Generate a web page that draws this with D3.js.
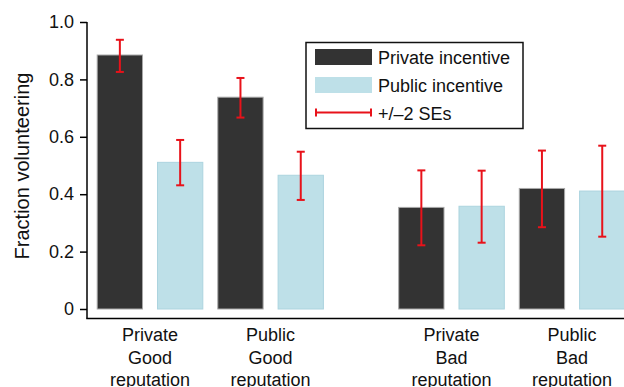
<!DOCTYPE html>
<html><head><meta charset="utf-8">
<script src="https://cdn.jsdelivr.net/npm/d3@7"></script>
<style>body{margin:0;background:#fff}svg{display:block;font-family:"Liberation Sans",Arial,sans-serif}</style>
</head><body>
<svg id="c" width="624" height="387"></svg>
<script>
const groups = [["Private","Good","reputation"],["Public","Good","reputation"],["Private","Bad","reputation"],["Public","Bad","reputation"]];
const seriesNames = ["Private incentive","Public incentive"];
const privateVals = [0.885, 0.738, 0.354, 0.420];
const publicVals = [0.511, 0.466, 0.358, 0.411];
const privateLo = [0.826, 0.667, 0.222, 0.285];
const privateHi = [0.938, 0.805, 0.483, 0.552];
const publicLo = [0.431, 0.380, 0.231, 0.252];
const publicHi = [0.589, 0.548, 0.482, 0.569];
const yTicks = [0, 0.2, 0.4, 0.6, 0.8, 1.0];
const yTitle = "Fraction volunteering";
const errLabel = "+/\u20132 SEs";

const colors = ["#333333", "#bee0e8"];
const strokes = ["#a8a8a8", "#acd4df"];
const red = "#e8121a";

const svg = d3.select("#c");
const slots = ["g0p","g0q","g1p","g1q","gap","g2p","g2q","g3p","g3q"];
const x = d3.scaleBand().domain(slots).range([87, 635.1]).paddingInner(0.232).paddingOuter(0.161);
const y = d3.scaleLinear().domain([0, 1]).range([309, 22]);

const bars = [];
groups.forEach((g, i) => {
  const base = i < 2 ? i * 2 : i * 2 + 1;
  bars.push({slot: slots[base], s: 0, v: privateVals[i], lo: privateLo[i], hi: privateHi[i], g: i});
  bars.push({slot: slots[base + 1], s: 1, v: publicVals[i], lo: publicLo[i], hi: publicHi[i], g: i});
});

svg.append("g").selectAll("rect").data(bars).join("rect")
  .attr("x", d => x(d.slot) + 0.5)
  .attr("y", d => y(d.v))
  .attr("width", x.bandwidth() - 1)
  .attr("height", d => y(0) - y(d.v))
  .attr("fill", d => colors[d.s])
  .attr("stroke", d => strokes[d.s])
  .attr("stroke-width", 1);

const eb = svg.append("g").attr("stroke", red).attr("stroke-width", 2);
bars.forEach(d => {
  const cx = x(d.slot) + x.bandwidth() / 2;
  eb.append("line").attr("x1", cx).attr("x2", cx).attr("y1", y(d.lo)).attr("y2", y(d.hi));
  eb.append("line").attr("x1", cx - 4).attr("x2", cx + 4).attr("y1", y(d.lo)).attr("y2", y(d.lo));
  eb.append("line").attr("x1", cx - 4).attr("x2", cx + 4).attr("y1", y(d.hi)).attr("y2", y(d.hi));
});

// axes
const yAxis = d3.axisLeft(y).tickValues(yTicks).tickSize(7).tickSizeOuter(0)
  .tickFormat(d => d === 0 ? "0" : d3.format(".1f")(d));
const ya = svg.append("g").attr("transform", "translate(87,0)").call(yAxis);
ya.select(".domain").remove();
ya.selectAll(".tick line").attr("stroke", "#000").attr("stroke-width", 1.5);
ya.selectAll(".tick text").attr("font-size", 18).attr("fill", "#111").attr("x", -13)
  .attr("font-family", "Liberation Sans, Arial, sans-serif");

svg.append("line").attr("x1", 87).attr("x2", 87).attr("y1", y(1)).attr("y2", 318.5)
  .attr("stroke", "#000").attr("stroke-width", 1.5);
svg.append("line").attr("x1", 86.25).attr("x2", 624).attr("y1", 318.5).attr("y2", 318.5)
  .attr("stroke", "#000").attr("stroke-width", 1.5);

svg.append("text").attr("transform", `translate(29,${(67+265)/2}) rotate(-90)`)
  .attr("text-anchor", "middle").attr("font-size", 20).attr("fill", "#111").text(yTitle);

// x labels
groups.forEach((g, i) => {
  const base = i < 2 ? i * 2 : i * 2 + 1;
  const cx = (x(slots[base]) + x(slots[base + 1]) + x.bandwidth()) / 2;
  const t = svg.append("text").attr("text-anchor", "middle").attr("font-size", 18).attr("fill", "#111");
  g.forEach((line, j) => t.append("tspan").attr("x", cx).attr("y", 341 + j * 22.5).text(line));
});

// legend
const lg = svg.append("g");
lg.append("rect").attr("x", 306).attr("y", 42.5).attr("width", 217).attr("height", 86)
  .attr("fill", "#fff").attr("stroke", "#111").attr("stroke-width", 1.5);
[0, 1].forEach(s => {
  lg.append("rect").attr("x", 315).attr("y", 49 + s * 28).attr("width", 57).attr("height", 16)
    .attr("fill", colors[s]);
  lg.append("text").attr("x", 378).attr("y", 63.5 + s * 28).attr("font-size", 18).attr("fill", "#111").text(seriesNames[s]);
});
const ly = 112.5;
lg.append("line").attr("x1", 315).attr("x2", 372).attr("y1", ly).attr("y2", ly).attr("stroke", red).attr("stroke-width", 2);
lg.append("line").attr("x1", 316).attr("x2", 316).attr("y1", ly - 4).attr("y2", ly + 4).attr("stroke", red).attr("stroke-width", 2);
lg.append("line").attr("x1", 371).attr("x2", 371).attr("y1", ly - 4).attr("y2", ly + 4).attr("stroke", red).attr("stroke-width", 2);
lg.append("text").attr("x", 378).attr("y", 119.5).attr("font-size", 18).attr("fill", "#111").text(errLabel);
</script>
</body></html>
